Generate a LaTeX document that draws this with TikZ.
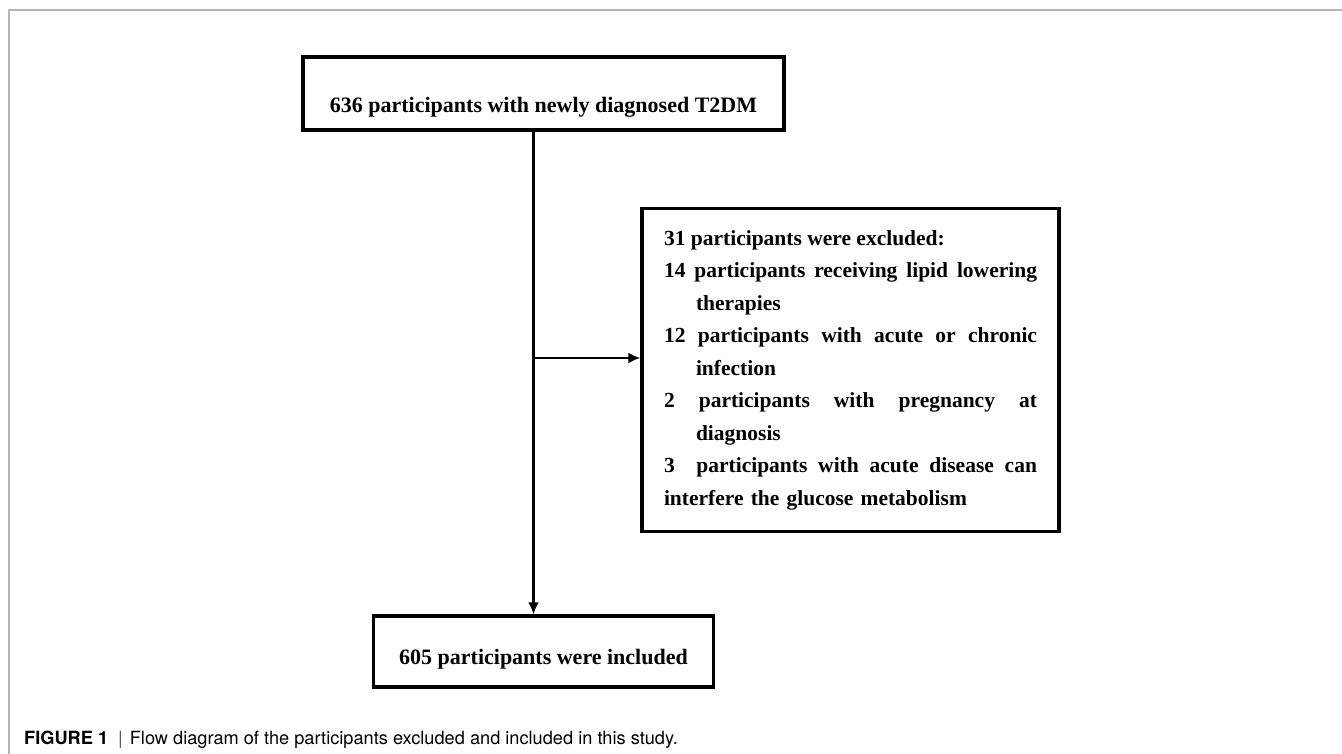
\documentclass[tikz,border=0pt]{standalone}
\usepackage{fontspec}
\setmainfont{Liberation Serif}
\newfontfamily\capfont{TeX Gyre Heros}
\usetikzlibrary{
  arrows.meta,
  positioning,
  calc
}
\definecolor{framegray}{HTML}{B4B4B4}
\definecolor{bargray}{HTML}{555555}

% one justified line of the exclusion list
\newcommand{\fullline}[1]{{\spaceskip=0.25em plus 1fil\makebox[373pt][s]{#1}}}

\begin{document}
\begin{tikzpicture}[
      x=1pt, y=1pt,
      box/.style={
        rectangle, draw=black, line width=3.3pt, fill=white,
        inner sep=0pt, font=\fontsize{22}{26}\selectfont\bfseries,
        align=center
      },
      arrow/.style={-{Latex[length=12pt,width=11pt]}, line width=2.7pt},
      caption/.style={font=\capfont\fontsize{18.2}{20}\selectfont,
        anchor=base west, inner sep=0pt}
    ]
      \useasboundingbox (0,0) rectangle (1342,754);
      % page frame
      \draw[framegray, line width=1.5pt] (9,0) -- (9,744) -- (1342,744);

      \node[box, minimum width=481pt, minimum height=73pt,
        text height=38pt, text depth=0pt] (total) at (543.5,660.5)
        {636 participants with newly diagnosed T2DM};
      \node[box, minimum width=417pt, minimum height=323pt,
        text width=373pt, align=left,
        font=\fontsize{21.5}{32.5}\selectfont\bfseries] (excl) at (850.5,384)
        {\fullline{31 participants were excluded:\hfill}\\
         \fullline{14 participants receiving lipid lowering}\\
         \hspace*{32pt}therapies\\
         \fullline{12 participants with acute or chronic}\\
         \hspace*{32pt}infection\\
         \fullline{2 participants with pregnancy at}\\
         \hspace*{32pt}diagnosis\\
         \fullline{3\ \ participants with acute disease can}\\
         interfere the glucose metabolism};
      \node[box, minimum width=340pt, minimum height=71pt,
        text height=27pt, text depth=0pt] (incl) at (543.5,102.5)
        {605 participants were included};

      \coordinate (split) at ([xshift=-10pt]total.south |- 0,396);
      \draw[arrow] ([xshift=-10pt]total.south) -- ([xshift=-10pt]total.south |- incl.north);
      \draw[arrow] (split) -- (split -| excl.west);

      % caption
      \node[caption] (cap) at (24,9)
        {\textbf{FIGURE 1}\hspace{10pt}\textcolor{bargray}{|}\hspace{7pt}Flow diagram of the participants excluded and included in this study.};
    \end{tikzpicture}
\end{document}
